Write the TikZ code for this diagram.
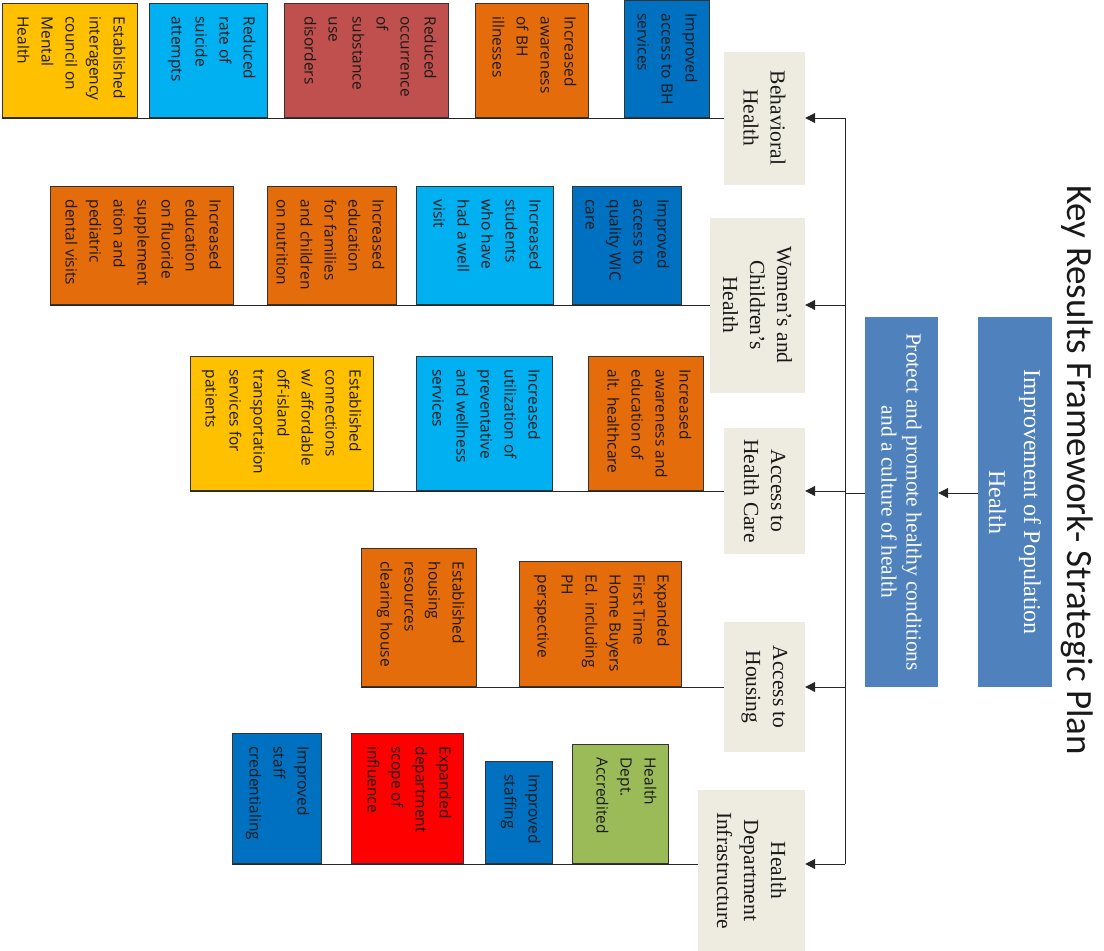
\documentclass[tikz,border=0pt]{standalone}
\usepackage{fontspec}
\setmainfont{Liberation Serif}
\setsansfont{Open Sans}
\newfontfamily\titlefont{Carlito}
\usetikzlibrary{arrows.meta}
\definecolor{catgray}{HTML}{EEECE1}
\definecolor{hdrblue}{HTML}{4F81BD}
\definecolor{boxyellow}{HTML}{FFC000}
\definecolor{boxsky}{HTML}{00B0F0}
\definecolor{boxbrick}{HTML}{C0504D}
\definecolor{boxorange}{HTML}{E46C0A}
\definecolor{boxblue}{HTML}{0070C0}
\definecolor{boxred}{HTML}{FF0000}
\definecolor{boxgreen}{HTML}{9BBB59}
% text of an outcome box, set at the top: width, height, lines
\newcommand\outtext[3]{\parbox[c][\dimexpr#2pt-14pt\relax][t]{\dimexpr#1pt-26pt\relax}{\begin{tabular}[t]{@{}l@{}}#3\end{tabular}}}
\begin{document}
\begin{tikzpicture}[x=1pt, y=1pt, rotate=-90, transform shape,
  outcome/.style={draw=black!80, line width=0.9pt, inner xsep=13pt, inner ysep=7pt,
    anchor=south east, text=black!90, font=\sffamily\fontsize{15.5}{24}\selectfont},
  category/.style={fill=catgray, text=black!90, align=center, inner sep=0pt,
    font=\fontsize{21.5}{27}\selectfont},
  header/.style={fill=hdrblue, text=white, align=center, inner sep=0pt,
    minimum width=370pt},
  arr/.style={-{Triangle[length=10pt,width=10pt]}, line width=1pt, draw=black!85},
  link/.style={line width=1pt, draw=black!85}]
  \useasboundingbox (0,0) rectangle (951,1104);

  % title and goal
  \node[font=\titlefont\fontsize{37}{42}\selectfont, text=black!90] (title) at (470,1077)
    {Key Results Framework- Strategic Plan};
  \node[header, minimum height=74pt, font=\fontsize{24}{35}\selectfont] (improve) at (502,1015)
    {Improvement of Population\\Health};
  \node[header, minimum height=73pt, font=\fontsize{21.5}{25}\selectfont] (protect) at (502,901.5)
    {Protect and promote healthy conditions\\and a culture of health};

  % focus areas
  \node[category, minimum width=133pt, minimum height=81pt] (behav) at (118,764.5)
    {Behavioral\\Health};
  \node[category, minimum width=175pt, minimum height=95pt] (women) at (305,757.5)
    {Women’s and\\Children’s\\Health};
  \node[category, minimum width=126pt, minimum height=81pt] (care) at (491,764.5)
    {Access to\\Health Care};
  \node[category, minimum width=130pt, minimum height=81pt] (housing) at (687,764.5)
    {Access to\\Housing};
  \node[category, minimum width=161pt, minimum height=107pt] (infra) at (870.5,751.5)
    {Health\\Department\\Infrastructure};

  \coordinate (spine) at (493,845);
  \coordinate (bus1) at (118,845);
  \coordinate (bus2) at (305,845);
  \coordinate (bus3) at (491,845);
  \coordinate (bus4) at (687,845);
  \coordinate (bus5) at (864,845);

  % behavioral health
  \node[outcome, fill=boxyellow] (b1) at (118,2)
    {\outtext{114}{135}{Established\\interagency\\council on\\Mental\\Health}};
  \node[outcome, fill=boxsky] (b2) at (118,149)
    {\outtext{114}{118}{Reduced\\rate of\\suicide\\attempts}};
  \node[outcome, fill=boxbrick] (b3) at (118,284)
    {\outtext{114}{164}{Reduced\\occurrence\\of\\substance\\use\\disorders}};
  \node[outcome, fill=boxorange] (b4) at (118,475)
    {\outtext{114}{113}{Increased\\awareness\\of BH\\illnesses}};
  \node[outcome, fill=boxblue] (b5) at (118,624)
    {\outtext{117}{85}{Improved\\access to BH\\services}};

  % women's and children's health
  \node[outcome, fill=boxorange] (w1) at (305,50)
    {\outtext{118}{183}{Increased\\education\\on fluoride\\supplement\\ation and\\pediatric\\dental visits}};
  \node[outcome, fill=boxorange] (w2) at (305,267)
    {\outtext{118}{129}{Increased\\education\\for families\\and children\\on nutrition}};
  \node[outcome, fill=boxsky] (w3) at (305,416)
    {\outtext{118}{137}{Increased\\students\\who have\\had a well\\visit}};
  \node[outcome, fill=boxblue] (w4) at (305,572)
    {\outtext{118}{109}{Improved\\access to\\quality WIC\\care}};

  % access to health care
  \node[outcome, fill=boxyellow] (c1) at (491,190)
    {\outtext{134}{183}{Established\\connections\\w/ affordable\\off-island\\transportation\\services for\\patients}};
  \node[outcome, fill=boxsky] (c2) at (491,416)
    {\outtext{134}{136}{Increased\\utilization of\\preventative\\and wellness\\services}};
  \node[outcome, fill=boxorange] (c3) at (491,588)
    {\outtext{134}{115}{Increased\\awareness and\\education of\\alt. healthcare}};

  % access to housing
  \node[outcome, fill=boxorange] (h1) at (687,361)
    {\outtext{138}{115}{Established\\housing\\resources\\clearing house}};
  \node[outcome, fill=boxorange] (h2) at (687,519)
    {\outtext{125}{162}{Expanded\\First Time\\Home Buyers\\Ed. including\\PH\\perspective}};

  % health department infrastructure
  \node[outcome, fill=boxblue] (i1) at (864,232)
    {\outtext{130}{89}{Improved\\staff\\credentialing}};
  \node[outcome, fill=boxred] (i2) at (864,351)
    {\outtext{130}{112}{Expanded\\department\\scope of\\influence}};
  \node[outcome, fill=boxblue] (i3) at (864,485)
    {\outtext{102}{67}{Improved\\staffing}};
  \node[outcome, fill=boxgreen] (i4) at (864,572)
    {\outtext{119}{96}{Health\\Dept.\\Accredited}};

  % connectors
  \draw[arr] (spine |- improve.south) -- (spine |- protect.north);
  \draw[link] (spine |- protect.south) -- (spine);
  \draw[link] (bus1) -- (bus5);
  \foreach \k/\cat in {1/behav, 2/women, 3/care, 4/housing, 5/infra}
    \draw[arr] (bus\k) -- (bus\k |- \cat.north);
  \draw[link] (bus1 |- behav.south) -- (b1.south east);
  \draw[link] (bus2 |- women.south) -- (w1.south east);
  \draw[link] (bus3 |- care.south) -- (c1.south east);
  \draw[link] (bus4 |- housing.south) -- (h1.south east);
  \draw[link] (bus5 |- infra.south) -- (i1.south east);
\end{tikzpicture}
\end{document}
